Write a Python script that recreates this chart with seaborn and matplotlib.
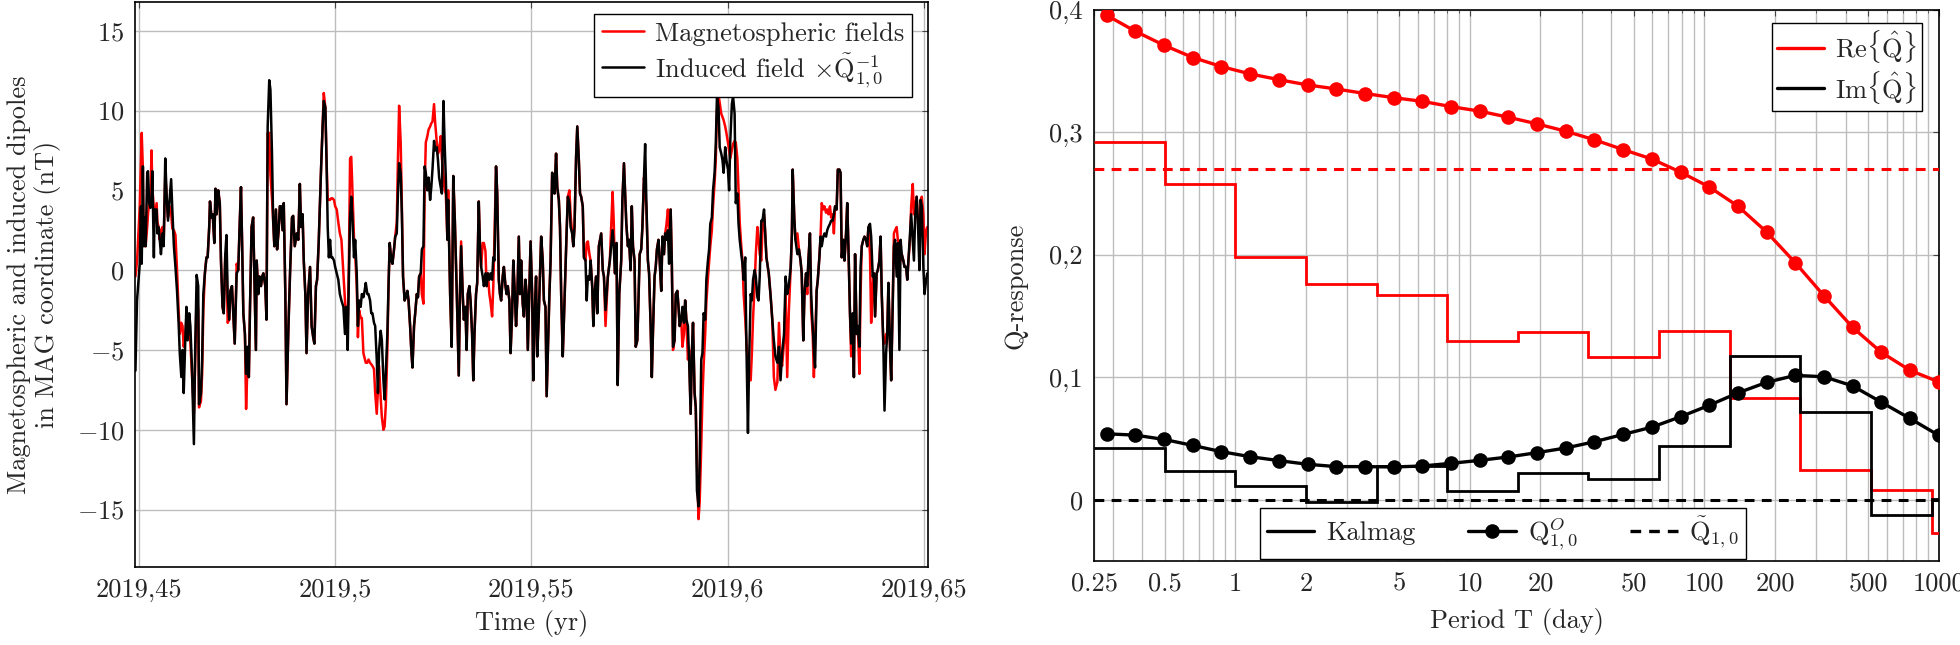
import matplotlib

matplotlib.use("Agg")
import matplotlib.pyplot as plt
import numpy as np
import seaborn as sns
from matplotlib.lines import Line2D
from matplotlib.ticker import LogLocator, NullFormatter

# ---------------------------------------------------------------------------
# Left panel: dipole time series
# ---------------------------------------------------------------------------

years = [
    2019.4491, 2019.4495, 2019.4502, 2019.4505, 2019.4507, 2019.4510, 2019.4512, 2019.4515, 2019.4517, 2019.4521,
    2019.4523, 2019.4526, 2019.4529, 2019.4532, 2019.4534, 2019.4538, 2019.4540, 2019.4545, 2019.4547, 2019.4550,
    2019.4553, 2019.4556, 2019.4560, 2019.4563, 2019.4567, 2019.4571, 2019.4574, 2019.4578, 2019.4582, 2019.4585,
    2019.4589, 2019.4593, 2019.4597, 2019.4601, 2019.4604, 2019.4608, 2019.4611, 2019.4614, 2019.4618, 2019.4621,
    2019.4624, 2019.4628, 2019.4631, 2019.4635, 2019.4640, 2019.4643, 2019.4647, 2019.4651, 2019.4653, 2019.4658,
    2019.4661, 2019.4664, 2019.4668, 2019.4672, 2019.4675, 2019.4679, 2019.4681, 2019.4685, 2019.4688, 2019.4692,
    2019.4695, 2019.4698, 2019.4702, 2019.4706, 2019.4709, 2019.4713, 2019.4716, 2019.4720, 2019.4723, 2019.4726,
    2019.4730, 2019.4733, 2019.4737, 2019.4740, 2019.4744, 2019.4749, 2019.4753, 2019.4757, 2019.4760, 2019.4763,
    2019.4766, 2019.4770, 2019.4773, 2019.4777, 2019.4780, 2019.4783, 2019.4787, 2019.4791, 2019.4794, 2019.4798,
    2019.4800, 2019.4804, 2019.4807, 2019.4811, 2019.4814, 2019.4817, 2019.4822, 2019.4825, 2019.4828, 2019.4832,
    2019.4835, 2019.4839, 2019.4842, 2019.4845, 2019.4849, 2019.4852, 2019.4856, 2019.4859, 2019.4862, 2019.4866,
    2019.4869, 2019.4873, 2019.4876, 2019.4881, 2019.4885, 2019.4890, 2019.4893, 2019.4897, 2019.4902, 2019.4906,
    2019.4910, 2019.4913, 2019.4917, 2019.4920, 2019.4924, 2019.4927, 2019.4931, 2019.4936, 2019.4940, 2019.4944,
    2019.4947, 2019.4951, 2019.4954, 2019.4958, 2019.4961, 2019.4964, 2019.4968, 2019.4971, 2019.4975, 2019.4978,
    2019.4981, 2019.4984, 2019.4987, 2019.4990, 2019.4993, 2019.4997, 2019.5000, 2019.5004, 2019.5008, 2019.5012,
    2019.5016, 2019.5021, 2019.5025, 2019.5028, 2019.5032, 2019.5035, 2019.5038, 2019.5041, 2019.5044, 2019.5048,
    2019.5051, 2019.5055, 2019.5058, 2019.5061, 2019.5065, 2019.5068, 2019.5072, 2019.5075, 2019.5078, 2019.5082,
    2019.5085, 2019.5089, 2019.5092, 2019.5095, 2019.5099, 2019.5102, 2019.5106, 2019.5109, 2019.5112, 2019.5116,
    2019.5119, 2019.5123, 2019.5126, 2019.5129, 2019.5133, 2019.5136, 2019.5139, 2019.5143, 2019.5146, 2019.5150,
    2019.5153, 2019.5157, 2019.5160, 2019.5163, 2019.5167, 2019.5170, 2019.5173, 2019.5177, 2019.5180, 2019.5184,
    2019.5187, 2019.5191, 2019.5194, 2019.5197, 2019.5201, 2019.5204, 2019.5208, 2019.5211, 2019.5214, 2019.5218,
    2019.5221, 2019.5225, 2019.5228, 2019.5231, 2019.5235, 2019.5238, 2019.5242, 2019.5245, 2019.5248, 2019.5252,
    2019.5255, 2019.5259, 2019.5262, 2019.5265, 2019.5269, 2019.5272, 2019.5276, 2019.5279, 2019.5282, 2019.5286,
    2019.5288, 2019.5293, 2019.5297, 2019.5301, 2019.5305, 2019.5310, 2019.5315, 2019.5318, 2019.5321, 2019.5325,
    2019.5328, 2019.5332, 2019.5335, 2019.5338, 2019.5342, 2019.5345, 2019.5349, 2019.5352, 2019.5355, 2019.5359,
    2019.5362, 2019.5366, 2019.5369, 2019.5372, 2019.5376, 2019.5379, 2019.5383, 2019.5386, 2019.5389, 2019.5393,
    2019.5396, 2019.5400, 2019.5403, 2019.5406, 2019.5410, 2019.5413, 2019.5417, 2019.5420, 2019.5423, 2019.5427,
    2019.5430, 2019.5434, 2019.5437, 2019.5440, 2019.5444, 2019.5447, 2019.5451, 2019.5454, 2019.5457, 2019.5461,
    2019.5464, 2019.5468, 2019.5471, 2019.5474, 2019.5478, 2019.5481, 2019.5485, 2019.5488, 2019.5491, 2019.5495,
    2019.5498, 2019.5502, 2019.5505, 2019.5508, 2019.5512, 2019.5515, 2019.5519, 2019.5522, 2019.5525, 2019.5529,
    2019.5532, 2019.5536, 2019.5539, 2019.5542, 2019.5546, 2019.5549, 2019.5553, 2019.5556, 2019.5559, 2019.5563,
    2019.5566, 2019.5570, 2019.5573, 2019.5576, 2019.5580, 2019.5583, 2019.5587, 2019.5590, 2019.5593, 2019.5597,
    2019.5600, 2019.5604, 2019.5607, 2019.5610, 2019.5614, 2019.5617, 2019.5621, 2019.5624, 2019.5627, 2019.5631,
    2019.5634, 2019.5638, 2019.5641, 2019.5644, 2019.5648, 2019.5651, 2019.5655, 2019.5658, 2019.5661, 2019.5665,
    2019.5668, 2019.5672, 2019.5675, 2019.5678, 2019.5682, 2019.5685, 2019.5689,
    2019.5695, 2019.5700, 2019.5707, 2019.5710, 2019.5713, 2019.5717, 2019.5720, 2019.5724, 2019.5729, 2019.5732,
    2019.5736, 2019.5739, 2019.5742, 2019.5746, 2019.5749, 2019.5753, 2019.5756, 2019.5759, 2019.5763, 2019.5766,
    2019.5770, 2019.5773, 2019.5776, 2019.5780, 2019.5783, 2019.5787, 2019.5790, 2019.5793, 2019.5797, 2019.5800,
    2019.5804, 2019.5807, 2019.5810, 2019.5814, 2019.5817, 2019.5820, 2019.5824, 2019.5827, 2019.5831, 2019.5834,
    2019.5838, 2019.5841, 2019.5844, 2019.5848, 2019.5851, 2019.5855, 2019.5858, 2019.5861, 2019.5865, 2019.5868,
    2019.5872, 2019.5875, 2019.5878, 2019.5882, 2019.5885, 2019.5889, 2019.5892, 2019.5895, 2019.5899, 2019.5902,
    2019.5906, 2019.5909, 2019.5912, 2019.5916, 2019.5919, 2019.5922, 2019.5926, 2019.5929, 2019.5933, 2019.5936,
    2019.5939, 2019.5943, 2019.5946, 2019.5950, 2019.5953, 2019.5956, 2019.5960, 2019.5963, 2019.5967, 2019.5970,
    2019.5973, 2019.5977, 2019.5980, 2019.5984, 2019.5987, 2019.5990, 2019.5994, 2019.5997, 2019.6001, 2019.6004,
    2019.6007, 2019.6011, 2019.6014, 2019.6018, 2019.6021, 2019.6025, 2019.6028, 2019.6031, 2019.6035, 2019.6038,
    2019.6041, 2019.6045, 2019.6048, 2019.6052, 2019.6055, 2019.6059, 2019.6062, 2019.6065, 2019.6069, 2019.6072,
    2019.6076, 2019.6079, 2019.6082, 2019.6086, 2019.6089, 2019.6093, 2019.6096, 2019.6099,
    2019.6105, 2019.6110, 2019.6114, 2019.6118, 2019.6122, 2019.6127, 2019.6131, 2019.6135, 2019.6139, 2019.6144,
    2019.6148, 2019.6152, 2019.6156, 2019.6161, 2019.6164, 2019.6166, 2019.6170, 2019.6173, 2019.6178, 2019.6182,
    2019.6186, 2019.6189, 2019.6193, 2019.6196, 2019.6200, 2019.6203, 2019.6206, 2019.6210, 2019.6213, 2019.6217,
    2019.6220, 2019.6223, 2019.6227, 2019.6230, 2019.6234, 2019.6237, 2019.6240, 2019.6244, 2019.6247, 2019.6251,
    2019.6254, 2019.6257, 2019.6261, 2019.6264, 2019.6268, 2019.6271, 2019.6274, 2019.6278, 2019.6281, 2019.6285,
    2019.6288, 2019.6291, 2019.6295, 2019.6298, 2019.6302, 2019.6305, 2019.6308, 2019.6312, 2019.6315, 2019.6319,
    2019.6322, 2019.6325, 2019.6329, 2019.6332, 2019.6336, 2019.6339, 2019.6342, 2019.6346, 2019.6349, 2019.6353,
    2019.6356, 2019.6359, 2019.6363, 2019.6366, 2019.6370, 2019.6373, 2019.6376, 2019.6380, 2019.6383, 2019.6387,
    2019.6390, 2019.6393, 2019.6397, 2019.6400, 2019.6404, 2019.6407, 2019.6410, 2019.6414, 2019.6417, 2019.6421,
    2019.6424, 2019.6427, 2019.6431, 2019.6434, 2019.6438, 2019.6441, 2019.6444, 2019.6448, 2019.6451, 2019.6455,
    2019.6458, 2019.6461, 2019.6465, 2019.6468, 2019.6472, 2019.6475, 2019.6478, 2019.6482, 2019.6485, 2019.6489,
    2019.6492, 2019.6495, 2019.6499, 2019.6502, 2019.6506, 2019.6509,
]

# induced field x Q^-1 (black)
induced_nT = [
    -6.3, -1.9, 0.4, 4.0, 0.4, 6.5, 1.5, 3.3, 1.5, 6.1,
    6.2, 4.2, 3.9, 4.4, 6.2, 0.8, 3.8, 3.8, 2.3, 2.7,
    1.9, 1.0, 2.3, 1.5, 7.0, 4.4, 3.1, 4.4, 5.7, 3.8,
    1.5, 0.2, -1.3, -3.3, -5.2, -6.7, -5.0, -7.7, -4.4, -2.3,
    -4.4, -2.7, -3.5, -6.1, -10.9, -5.4, -0.3, -1.0, -8.4, -7.7,
    -5.6, -1.5, -0.2, 0.8, 0.8, 2.7, 4.3, 3.3, 3.5, 1.7,
    5.1, 3.5, 5.0, 4.2, 0.6, -2.3, -2.7, 1.0, 2.2, -1.5,
    -3.1, -1.3, -1.0, -2.5, -4.6, -0.2, 0.0, 3.1, 5.2, 1.5,
    -2.7, -4.0, -6.5, -4.8, -6.7, -2.3, 2.7, 3.3, -0.2, -5.0,
    0.6, -1.5, -0.4, -1.0, -0.4, -0.2, -1.0, -3.1, 9.0, 11.9,
    11.3, 7.3, 3.1, 1.5, 3.8, 1.3, 2.5, 4.0, 4.0, 2.5,
    4.2, -1.5, -8.4, -3.5, -0.2, 3.3, 3.4, 1.5, 2.3, 1.9,
    5.4, 2.7, 3.5, 0.6, -1.5, -5.2, -1.5, 0.2, -3.5, -4.2,
    -4.6, -1.0, -0.6, 1.7, 4.0, 6.3, 9.0, 10.6, 10.2, 6.9,
    2.7, 0.8, 1.9, 0.8, 0.8, 0.6, 0.2, -0.2, -0.6, -1.5,
    -1.9, -2.3, -4.0, -2.3, -5.0, -0.4, 3.3, 4.6, 3.3, 0.8,
    1.9, -0.2, -3.5, -1.9, -2.3, -1.5, -1.7, -1.3, -0.8, -1.5,
    -1.5, -1.9, -2.7, -2.7, -3.3, -3.5, -5.6, -7.7, -5.0, -3.8,
    -4.4, -6.9, -8.1, -6.5, -4.0, -1.0, 1.7, 0.6, 0.4, 1.3,
    2.1, 2.3, 4.8, 6.7, 6.1, 3.5, -0.4, -1.9, -1.7, -1.3,
    -1.9, -3.5, -5.0, -6.1, -3.5, -2.7, -1.5, -1.7, -0.4, -0.2,
    1.3, 1.5, 6.5, 6.1, 5.0, 5.8, 4.4, 5.2, 6.3, 8.1,
    7.5, 7.7, 6.9, 5.8, 5.2, 4.8, 10.6, 7.9, 5.8, 1.9,
    4.4, -1.5, -4.8, 5.9, 3.1, -1.5, -6.6, -1.5, 1.5, -1.5,
    -3.1, -2.3, -5.0, -1.5, -1.0, -1.9, -4.0, -6.9, -4.0, -1.5,
    -0.8, 4.3, 1.5, 0.2, -0.4, -1.0, -0.2, -1.0, -0.2, -0.6,
    -0.2, -0.6, 0.8, 0.6, 6.5, 4.8, -0.6, -1.5, -1.9, -0.4,
    0.2, -1.0, -1.5, -1.0, -1.9, -5.2, -2.7, 0.6, -1.0, -3.5,
    -1.9, 2.1, -1.5, 0.6, -2.1, -2.9, -0.6, -1.5, -5.0, -1.0,
    1.8, -1.5, -6.9, -3.1, -0.4, -5.4, -2.7, -0.4, 2.1, 0.6,
    -1.9, -2.3, -7.9, -5.2, -1.5, 0.6, 6.1, 5.8, 4.8, 7.3,
    5.2, 4.4, 2.7, -1.5, -5.4, -3.1, 0.2, 2.5, 4.6, 4.2,
    2.7, 2.3, 1.5, 2.7, 7.1, 9.0, 6.9, 4.8, 4.6, 4.0,
    0.8, 0.6, -1.9, -0.4, -0.6, 0.6, -1.0, -3.5, -1.5, -0.4,
    -2.7, 1.5, 1.9, 2.3, 0.0, -0.4, -2.5,
    -0.4, 0.6, 2.5, 1.5, -0.2, 1.7, -7.2, -1.5, 0.6, 4.4,
    6.7, 4.8, 2.9, 1.5, 1.9, 0.0, 4.0, 1.5, 0.6, -4.8,
    -4.4, -1.9, 1.0, 1.3, 2.7, 5.8, 7.9, 4.4, 0.6, -0.2,
    -3.5, -6.7, -3.8, -0.4, 0.2, 1.3, 1.9, 0.6, -1.3, 2.1,
    1.0, 2.3, 1.9, 2.5, 0.4, 3.8, 0.4, -4.8, -4.4, -1.5,
    -1.3, -2.3, -3.5, -3.1, -2.3, -3.3, -1.9, -3.1, -3.5, -5.6,
    -9.0, -5.2, -3.3, -7.7, -8.6, -13.8, -14.8, -11.9, -5.6, -5.2,
    -2.7, -3.1, -0.6, 0.6, 1.3, 2.9, 3.3, 5.0, 6.1, 7.9,
    10.9, 10.2, 7.7, 7.3, 6.9, 6.1, 7.7, 6.9, 6.3, 5.0,
    8.1, 10.4, 10.9, 9.8, 4.2, 4.8, 2.9, 1.9, 1.0, 0.4,
    -0.6, 0.8, -4.6, -10.2, -5.6, -1.5, -1.9, -0.6, 0.0, -0.4,
    -1.7, -1.9, -0.4, 3.1, 3.1, 3.8, 2.3, 0.8,
    -0.2, -1.7, -3.1, -4.4, -5.4, -5.8, -4.8, -6.9, -5.2, -4.0,
    -0.4, -1.5, -1.0, 0.2, 2.3, 6.3, 3.3, 1.9, 1.0, 1.3,
    0.6, -0.2, -4.4, -1.5, -0.2, -1.0, 0.6, 2.3, -1.5, -3.5,
    -5.0, -6.1, -1.3, -0.6, 0.8, 2.1, 1.5, 2.1, 2.3, 2.1,
    2.5, 2.7, 2.9, 3.1, 3.1, 3.5, 4.0, 3.8, 6.3, 6.3,
    6.1, 0.8, 1.9, 0.6, 2.3, 4.2, 1.5, -2.7, -4.6, -2.7,
    -6.7, 1.0, -4.0, -3.5, -4.8, 0.2, 1.5, 1.9, 2.1, 1.9,
    1.5, 2.7, 2.9, 2.1, -0.4, -0.2, -2.9, -0.2, 0.0, 0.6,
    2.1, -1.5, -4.6, -8.8, -5.2, -4.0, -0.8, -4.8, -6.9, -1.9,
    1.5, 1.9, -0.4, 1.7, -5.0, 1.9, 1.0, 0.6, 0.2, 0.2,
    -0.6, 0.6, 2.3, 3.5, 1.9, 0.6, 3.3, 4.6, 3.1, 0.0,
    4.4, 4.0, 0.2, -1.5, -0.6, -0.2,
]

# magnetospheric fields (red)
magneto_nT = [
    -0.4, 0.5, 4.0, 6.9, 8.6, 6.3, 2.0, 1.5, 1.5, 2.7,
    3.5, 4.2, 4.0, 7.5, 5.2, 3.8, 3.3, 4.2, 3.0, 2.7,
    1.9, 2.5, 2.7, 1.8, 6.0, 4.4, 3.3, 4.0, 3.6, 2.6,
    2.5, 2.2, 0.0, -2.5, -4.0, -3.3, -3.5, -4.8, -4.0, -3.0,
    -4.2, -3.5, -4.5, -6.5, -9.0, -6.0, -1.5, -2.5, -8.6, -8.2,
    -6.5, -2.5, -0.2, 0.8, 0.8, 2.7, 4.3, 3.3, 3.5, 1.7,
    5.1, 3.5, 5.0, 4.2, 0.6, -2.3, -2.7, 1.0, 1.0, -3.3,
    -3.1, -1.3, -1.0, -2.5, -4.6, 0.4, 0.0, 3.1, 5.2, 1.5,
    -2.7, -4.0, -8.7, -5.5, -6.7, -2.3, 2.7, 3.3, -0.2, -5.0,
    0.6, -1.5, -0.4, -1.0, -0.4, -0.2, -1.0, -3.1, 8.6, 8.6,
    6.0, 4.5, 3.1, 1.5, 3.8, 1.3, 2.5, 4.0, 4.0, 2.5,
    4.2, -1.5, -8.4, -3.5, -0.2, 3.3, 3.4, 1.5, 2.3, 1.9,
    5.4, 2.7, 3.5, 0.6, -1.5, -5.2, -1.5, 0.2, -3.5, -4.2,
    -4.6, -1.0, -0.6, 1.7, 4.0, 6.3, 9.0, 11.1, 10.2, 6.9,
    4.5, 4.4, 4.4, 4.5, 4.5, 4.4, 4.0, 3.8, 3.0, 2.3,
    1.9, -0.2, -1.9, -3.0, -3.5, 0.5, 7.0, 7.1, 5.0, 2.0,
    1.0, -1.0, -4.2, -2.5, -3.0, -3.0, -5.2, -5.5, -5.8, -5.8,
    -5.6, -5.8, -5.9, -6.0, -6.2, -7.7, -9.0, -7.5, -6.0, -8.0,
    -9.2, -10.0, -9.8, -8.5, -5.0, -1.0, 1.7, 0.6, 0.4, 1.3,
    2.1, 3.0, 7.0, 10.3, 8.0, 4.0, -0.4, -1.9, -1.7, -1.3,
    -1.9, -3.5, -5.0, -6.1, -3.5, -2.7, -1.5, -1.7, -0.4, -0.2,
    -1.5, -2.1, 5.0, 8.0, 8.4, 8.8, 9.0, 9.2, 9.3, 10.4,
    9.2, 8.0, 7.3, 7.5, 8.4, 7.0, 6.0, 5.0, 4.8, 1.9,
    5.0, -1.5, -4.8, 5.9, 3.1, -1.5, -6.6, -1.5, 1.8, -1.5,
    -3.1, -2.3, -5.0, -1.5, -1.0, -1.9, -4.0, -6.9, -4.0, -1.5,
    -0.8, 4.3, 1.5, 0.2, 1.7, 1.7, 1.2, -1.0, -0.2, -1.5,
    -2.0, -2.9, -1.0, 2.0, 6.5, 4.8, -0.6, -1.5, -1.9, -0.4,
    0.2, -1.0, -1.5, -1.0, -1.9, -5.2, -2.7, 0.6, -1.0, -3.5,
    -1.9, 2.1, -1.5, 0.6, -2.1, -2.9, -0.6, -1.5, -5.0, -1.0,
    1.8, -1.5, -6.9, -3.1, -0.4, -5.4, -2.7, -0.4, 2.1, 0.6,
    -1.9, -2.3, -7.9, -5.2, -1.5, 0.6, 6.1, 5.8, 4.8, 7.3,
    5.2, 4.4, 2.7, -1.5, -5.4, -3.1, 0.2, 2.5, 4.6, 5.0,
    3.5, 2.3, 1.5, 2.7, 7.1, 9.0, 6.9, 4.8, 4.6, 4.0,
    0.8, 0.6, 1.7, 1.8, 1.0, 0.6, -1.0, -3.5, -1.5, -0.4,
    -2.7, 1.5, 1.9, 2.3, 0.0, -0.4, -3.5,
    -0.4, 0.6, 4.9, 3.0, -0.2, 1.7, -7.2, -1.5, 0.6, 4.4,
    6.7, 4.8, 2.9, 1.5, 1.9, 0.0, 4.0, 1.5, 0.6, -4.8,
    -4.4, -1.9, 1.0, 1.3, 2.7, 5.8, 5.0, 4.0, 0.6, -0.2,
    -3.5, -6.7, -3.8, -0.4, 0.2, 1.3, 1.9, 0.6, -1.3, 2.1,
    1.0, 2.3, 2.8, 3.8, 2.5, 3.8, 0.4, -5.0, -4.4, -1.5,
    -1.3, -2.3, -3.5, -3.1, -4.8, -4.0, -1.9, -3.1, -5.6, -5.0,
    -9.0, -5.2, -3.3, -7.7, -8.6, -12.0, -15.6, -14.5, -11.0, -8.0,
    -6.0, -4.0, -2.0, -0.5, 0.5, 1.5, 2.5, 4.0, 5.5, 6.9,
    10.0, 11.0, 10.5, 9.8, 9.6, 9.4, 9.0, 8.6, 8.0, 7.5,
    7.0, 7.5, 7.9, 8.1, 8.0, 7.0, 5.0, 3.0, 1.5, 0.6,
    -1.5, -3.0, -4.5, -6.0, -6.9, -6.9, -5.2, -3.0, -1.0, 1.0,
    2.7, 2.0, 1.0, 0.6, 2.5, 3.5, 2.3, 0.8,
    -0.2, -1.7, -3.1, -6.7, -7.5, -7.0, -3.3, -5.5, -6.0, -4.5,
    -1.5, -6.7, -2.7, 0.2, 2.3, 6.3, 3.3, 1.9, 2.3, 1.3,
    0.6, -0.2, -4.4, -1.5, -0.2, -1.5, 0.6, 2.3, -2.5, -4.0,
    -6.7, -4.5, -1.3, -0.6, 0.8, 2.1, 4.2, 3.8, 4.0, 3.6,
    3.8, 3.5, 4.0, 3.3, 3.5, 2.3, 4.0, 3.8, 6.3, 6.3,
    6.1, 0.8, 1.9, 0.6, 2.3, 4.2, 1.5, -2.7, -5.4, -3.0,
    -6.7, 1.0, -4.0, -3.5, -6.5, -1.5, 1.5, 1.9, 2.1, 1.9,
    1.5, 2.7, 1.0, -3.3, -1.0, -0.2, -2.9, -0.2, 0.0, 0.6,
    2.1, -1.5, -4.6, -4.6, -4.0, -4.0, -0.8, -4.8, -6.9, -1.9,
    2.3, 2.5, 2.7, 1.9, 1.5, 0.6, 1.0, 0.6, 0.2, 0.2,
    -0.6, 0.6, 1.9, 4.0, 5.4, 3.5, 4.0, 4.6, 3.1, 2.0,
    4.4, 4.6, 3.5, 1.0, 2.5, 2.7,
]

time_ticks = [2019.45, 2019.5, 2019.55, 2019.6, 2019.65]
time_tick_labels = ["2019,45", "2019,5", "2019,55", "2019,6", "2019,65"]

# ---------------------------------------------------------------------------
# Right panel: Q-responses
# ---------------------------------------------------------------------------

period_days = [
    0.283, 0.375, 0.497, 0.659, 0.873, 1.157, 1.534, 2.033, 2.694, 3.570,
    4.732, 6.271, 8.311, 11.01, 14.60, 19.34, 25.63, 33.97, 45.02, 59.66,
    79.07, 104.8, 138.9, 184.0, 243.9, 323.2, 428.3, 567.6, 752.2, 997.0,
]
q_obs_real = [
    0.3957, 0.3826, 0.3712, 0.3612, 0.3538, 0.3478, 0.3431, 0.3388, 0.3355, 0.3318,
    0.3284, 0.3254, 0.3211, 0.3174, 0.3124, 0.3070, 0.3010, 0.2940, 0.2860, 0.2783,
    0.2676, 0.2555, 0.2398, 0.2187, 0.1936, 0.1666, 0.1408, 0.1204, 0.1057, 0.0963,
]
q_obs_imag = [
    0.0539, 0.0528, 0.0493, 0.0444, 0.0393, 0.0352, 0.0320, 0.0290, 0.0271, 0.0271,
    0.0268, 0.0276, 0.0298, 0.0322, 0.0350, 0.0385, 0.0423, 0.0474, 0.0534, 0.0593,
    0.0678, 0.0772, 0.0873, 0.0959, 0.1016, 0.1005, 0.0930, 0.0797, 0.0664, 0.0526,
]

kalmag_edges = [0.25, 0.5, 1, 2, 4, 8, 16, 32, 64, 128, 256, 512, 931, 1000]
kalmag_real = [0.292, 0.2575, 0.198, 0.1766, 0.1676, 0.1298, 0.1369, 0.1163, 0.1382, 0.0835, 0.0247, 0.0084, -0.0274]
kalmag_imag = [0.042, 0.0233, 0.0114, -0.0014, 0.0274, 0.0068, 0.0217, 0.0168, 0.0436, 0.1171, 0.0715, -0.0122, 0.001]

q_tilde_real = 0.27
q_tilde_imag = 0.0

period_ticks = [0.25, 0.5, 1, 2, 5, 10, 20, 50, 100, 200, 500, 1000]
period_tick_labels = ["0.25", "0.5", "1", "2", "5", "10", "20", "50", "100", "200", "500", "1000"]

assert len(years) == len(induced_nT) == len(magneto_nT)

# ---------------------------------------------------------------------------
# Style
# ---------------------------------------------------------------------------

sns.set_style("white")
plt.rcParams["font.family"] = ["cmr10", "DejaVu Serif"]
plt.rcParams["mathtext.fontset"] = "cm"
plt.rcParams["axes.unicode_minus"] = True
plt.rcParams["axes.formatter.use_mathtext"] = True
FS = 19
GRID = "#bdbdbd"
DASH = (0, (3.2, 2.4))

fig = plt.figure(figsize=(19.6, 6.45), dpi=100)
ax1 = fig.add_axes([0.0691, 0.1209, 0.4044, 0.876])
ax2 = fig.add_axes([0.5582, 0.1302, 0.4311, 0.8543])

# ---------------------------------------------------------------------------
# Left panel
# ---------------------------------------------------------------------------

sns.lineplot(x=years, y=magneto_nT, ax=ax1, color="red", lw=1.8,
             estimator=None, sort=False)
sns.lineplot(x=years, y=induced_nT, ax=ax1, color="black", lw=1.8,
             estimator=None, sort=False)

ax1.set_xlim(2019.4491, 2019.6511)
ax1.set_ylim(-18.6, 16.8)
ax1.set_xticks(time_ticks, time_tick_labels)
ax1.set_yticks([-15, -10, -5, 0, 5, 10, 15],
               [r"$-15$", r"$-10$", r"$-5$", r"$0$", r"$5$", r"$10$", r"$15$"])
ax1.grid(True, color=GRID, lw=1.0)
ax1.set_axisbelow(True)
ax1.set_xlabel("Time (yr)", fontsize=FS)
ax1.set_ylabel("Magnetospheric and induced dipoles\nin MAG coordinate (nT)",
               fontsize=FS, linespacing=1.15)
ax1.xaxis.set_label_coords(0.5, -0.076)
ax1.yaxis.set_label_coords(-0.094, 0.5)

left_handles = [
    Line2D([], [], color="red", lw=1.8),
    Line2D([], [], color="black", lw=1.8),
]
ax1.legend(left_handles,
           ["Magnetospheric fields", r"Induced field $\times\tilde{\mathrm{Q}}^{-1}_{1,0}$"],
           loc="upper right", bbox_to_anchor=(0.98, 0.979), borderaxespad=0,
           fontsize=FS, frameon=True, fancybox=False, framealpha=1,
           edgecolor="black", handlelength=1.6, handletextpad=0.4,
           labelspacing=0.2, borderpad=0.3)

# ---------------------------------------------------------------------------
# Right panel
# ---------------------------------------------------------------------------

ax2.stairs(kalmag_real, kalmag_edges, color="red", lw=2.0, baseline=None, zorder=3)
ax2.stairs(kalmag_imag, kalmag_edges, color="black", lw=2.0, baseline=None, zorder=3)
ax2.axhline(q_tilde_real, color="red", lw=2.2, ls=DASH, zorder=3)
ax2.axhline(q_tilde_imag, color="black", lw=2.2, ls=DASH, zorder=3)
sns.lineplot(x=period_days, y=q_obs_real, ax=ax2, color="red", lw=2.4,
             marker="o", markersize=10.5, markeredgewidth=0, zorder=4)
sns.lineplot(x=period_days, y=q_obs_imag, ax=ax2, color="black", lw=2.4,
             marker="o", markersize=10.5, markeredgewidth=0, zorder=4)

ax2.set_xscale("log")
ax2.set_xlim(0.25, 1000)
ax2.set_ylim(-0.05, 0.4)
ax2.set_xticks(period_ticks, period_tick_labels)
ax2.xaxis.set_minor_locator(LogLocator(base=10, subs=np.arange(2, 10)))
ax2.xaxis.set_minor_formatter(NullFormatter())
ax2.set_yticks([0, 0.1, 0.2, 0.3, 0.4], ["0", "0,1", "0,2", "0,3", "0,4"])
ax2.grid(True, which="both", axis="x", color=GRID, lw=1.0)
ax2.grid(True, which="major", axis="y", color=GRID, lw=1.0)
ax2.set_axisbelow(True)
ax2.set_xlabel("Period T (day)", fontsize=FS)
ax2.set_ylabel("Q-response", fontsize=FS)
ax2.xaxis.set_label_coords(0.5, -0.086)
ax2.yaxis.set_label_coords(-0.079, 0.5)

leg1 = ax2.legend(
    [Line2D([], [], color="red", lw=2.4), Line2D([], [], color="black", lw=2.4)],
    [r"$\mathrm{Re}\{\hat{\mathrm{Q}}\}$", r"$\mathrm{Im}\{\hat{\mathrm{Q}}\}$"],
    loc="upper right", bbox_to_anchor=(0.98, 0.977), borderaxespad=0,
    fontsize=FS, frameon=True, fancybox=False, framealpha=1, edgecolor="black",
    handlelength=1.8, handletextpad=0.4, labelspacing=0.15, borderpad=0.2)
ax2.add_artist(leg1)
ax2.legend(
    [Line2D([], [], color="black", lw=2.4),
     Line2D([], [], color="black", lw=2.4, marker="o", markersize=10.5, markeredgewidth=0),
     Line2D([], [], color="black", lw=2.4, ls=DASH)],
    ["Kalmag", r"$\mathrm{Q}^{O}_{1,0}$", r"$\tilde{\mathrm{Q}}_{1,0}$"],
    loc="lower center", bbox_to_anchor=(0.484, 0.004), borderaxespad=0, ncol=3,
    fontsize=FS, frameon=True, fancybox=False, framealpha=1, edgecolor="black",
    handlelength=1.8, handletextpad=0.45, columnspacing=2.0, borderpad=0.25)

for ax in (ax1, ax2):
    for side in ("top", "bottom", "left", "right"):
        ax.spines[side].set_visible(True)
        ax.spines[side].set_color("black")
        ax.spines[side].set_linewidth(1.2)
    ax.tick_params(which="major", direction="in", length=4, width=0.8,
                   top=True, right=True, labelsize=FS, pad=8, color="#444444")
    ax.tick_params(which="minor", direction="in", length=2.5, width=0.6,
                   top=True, right=True, color="#444444")

fig.savefig("out.png", dpi=100)
